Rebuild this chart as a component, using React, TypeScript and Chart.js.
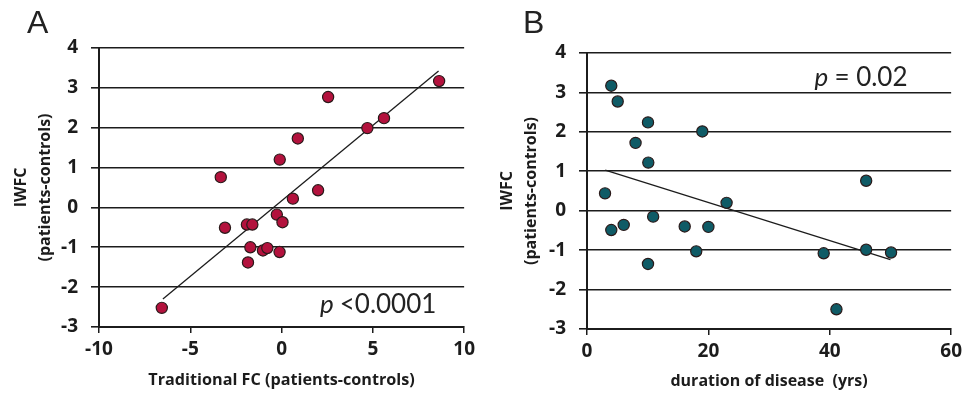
import React, { useEffect, useRef } from "react";
import { Chart, registerables } from "chart.js";
Chart.register(...registerables);

// Panel A: Traditional FC vs IWFC
const fcA = [-6.56, -3.33, -3.1, -1.9, -1.6, -1.84, -1.71, -1.02, -0.78, -0.26, -0.1, -0.11, 0.05, 0.62, 0.89, 2.0, 2.55, 4.7, 5.61, 8.63];
const iwfcA = [-2.52, 0.76, -0.51, -0.43, -0.43, -1.38, -1.0, -1.08, -1.02, -0.18, 1.2, -1.12, -0.37, 0.22, 1.73, 0.43, 2.77, 1.99, 2.24, 3.17];
const trendAx = [-6.5, 8.6];
const trendAy = [-2.3, 3.42];

// Panel B: duration of disease vs IWFC
const durB = [4.0, 5.06, 10.05, 8.0, 19.0, 10.1, 2.97, 46.0, 23.0, 4.0, 6.05, 10.9, 16.1, 20.0, 18.0, 10.05, 39.0, 46.0, 50.1, 41.1];
const iwfcB = [3.17, 2.77, 2.24, 1.72, 2.01, 1.22, 0.44, 0.76, 0.2, -0.49, -0.36, -0.15, -0.4, -0.41, -1.03, -1.35, -1.08, -0.99, -1.06, -2.5];
const trendBx = [3.0, 50.0];
const trendBy = [1.03, -1.24];

const yTicks = [-3, -2, -1, 0, 1, 2, 3, 4];
const xTicksA = [-10, -5, 0, 5, 10];
const xTicksB = [0, 20, 40, 60];

const yTitle = ["IWFC", "(patients-controls)"];
const xTitleA = "Traditional FC (patients-controls)";
const xTitleB = "duration of disease  (yrs)";
const pTextA = "<0.0001";
const pTextB = "= 0.02";

const INK = "#1c1c1c";
const TICK_FONT = { family: "'Open Sans'", size: 19, weight: "bold" as const };
const TITLE_FONT = { family: "'Open Sans'", size: 16, weight: "bold" as const, lineHeight: 1.5 };

type PanelCfg = {
  xs: number[];
  ys: number[];
  tx: number[];
  ty: number[];
  xTicks: number[];
  xTitle: string;
  xTitleSize: number;
  color: string;
  panel: string;
  panelX: number;
  pText: string;
  pAt: [number, number];
  yAxisWidth: number;
  xAxisHeight: number;
  pad: { left: number; top: number; right: number; bottom: number };
  yTitlePad: number;
};

function makeChart(canvas: HTMLCanvasElement, c: PanelCfg) {
  const pts = c.xs.map((x, i) => ({ x, y: c.ys[i] }));
  const line = c.tx.map((x, i) => ({ x, y: c.ty[i] }));
  const textPlugin = {
    id: "txt",
    afterDraw(chart: any) {
      const ctx = chart.ctx as CanvasRenderingContext2D;
      ctx.save();
      ctx.fillStyle = "#222";
      ctx.textBaseline = "alphabetic";
      ctx.font = "32px 'Liberation Sans'";
      ctx.fillText(c.panel, c.panelX, 33);
      const px = chart.scales.x.getPixelForValue(c.pAt[0]);
      const py = chart.scales.y.getPixelForValue(c.pAt[1]);
      ctx.font = "italic 26px Lato";
      ctx.fillText("p", px, py);
      const w = ctx.measureText("p ").width;
      ctx.font = "26px Lato";
      ctx.fillText(c.pText, px + w, py);
      ctx.restore();
    },
  };
  return new Chart(canvas, {
    type: "scatter",
    data: {
      datasets: [
        {
          type: "line",
          data: line,
          borderColor: INK,
          borderWidth: 1.3,
          pointRadius: 0,
          showLine: true,
          order: 2,
        } as any,
        {
          data: pts,
          backgroundColor: c.color,
          borderColor: "#2a1a1a",
          borderWidth: 1.2,
          pointRadius: 5.6,
          order: 1,
        },
      ],
    },
    options: {
      animation: false,
      responsive: false,
      layout: { padding: c.pad, autoPadding: false } as any,
      plugins: { legend: { display: false }, tooltip: { enabled: false } },
      scales: {
        x: {
          type: "linear",
          min: c.xTicks[0],
          max: c.xTicks[c.xTicks.length - 1],
          afterBuildTicks: (s: any) => {
            s.ticks = c.xTicks.map((v) => ({ value: v }));
          },
          afterFit: (s: any) => {
            s.height = c.xAxisHeight;
          },
          grid: { drawOnChartArea: false, drawTicks: true, tickLength: 6, color: INK, lineWidth: 1.5 },
          border: { display: true, color: INK, width: 2 },
          ticks: { font: TICK_FONT, color: INK, padding: 5 },
          title: {
            display: true,
            text: c.xTitle,
            font: { ...TITLE_FONT, size: c.xTitleSize },
            color: INK,
            padding: { top: 0, bottom: 4 },
          },
        },
        y: {
          type: "linear",
          min: yTicks[0],
          max: yTicks[yTicks.length - 1],
          afterBuildTicks: (s: any) => {
            s.ticks = yTicks.map((v) => ({ value: v }));
          },
          afterFit: (s: any) => {
            s.width = c.yAxisWidth;
          },
          grid: { drawOnChartArea: true, drawTicks: true, tickLength: 8, color: INK, lineWidth: 1.6 },
          border: { display: true, color: INK, width: 2 },
          ticks: { font: TICK_FONT, color: INK, padding: 13 },
          title: { display: true, text: yTitle, font: TITLE_FONT, color: INK, padding: { top: c.yTitlePad, bottom: 0 } },
        },
      },
    },
    plugins: [textPlugin],
  } as any);
}

function Panel({ cfg, width, left }: { cfg: PanelCfg; width: number; left: number }) {
  const ref = useRef<HTMLCanvasElement>(null);
  useEffect(() => {
    if (!ref.current) return;
    const ch = makeChart(ref.current, cfg);
    return () => ch.destroy();
  }, []);
  return (
    <canvas
      ref={ref}
      width={width}
      height={397}
      style={{ position: "absolute", left, top: 0, width, height: 397 }}
    />
  );
}

const cfgA: PanelCfg = {
  xs: fcA,
  ys: iwfcA,
  tx: trendAx,
  ty: trendAy,
  xTicks: xTicksA,
  xTitle: xTitleA,
  xTitleSize: 16.2,
  color: "#B3123D",
  panel: "A",
  panelX: 27,
  pText: pTextA,
  pAt: [2.1, -2.64],
  yAxisWidth: 99,
  xAxisHeight: 70,
  pad: { left: 0, top: 48, right: 15, bottom: 0 },
  yTitlePad: 9,
};

const cfgB: PanelCfg = {
  xs: durB,
  ys: iwfcB,
  tx: trendBx,
  ty: trendBy,
  xTicks: xTicksB,
  xTitle: xTitleB,
  xTitleSize: 16,
  color: "#0F5B66",
  panel: "B",
  panelX: 43,
  pText: pTextB,
  pAt: [37.5, 3.17],
  yAxisWidth: 107,
  xAxisHeight: 68,
  pad: { left: 0, top: 53, right: 15, bottom: 0 },
  yTitlePad: 15,
};

export default function App() {
  return (
    <div style={{ position: "absolute", left: 0, top: 0, width: 967, height: 397, background: "#fff" }}>
      <Panel cfg={cfgA} width={480} left={0} />
      <Panel cfg={cfgB} width={487} left={480} />
    </div>
  );
}
